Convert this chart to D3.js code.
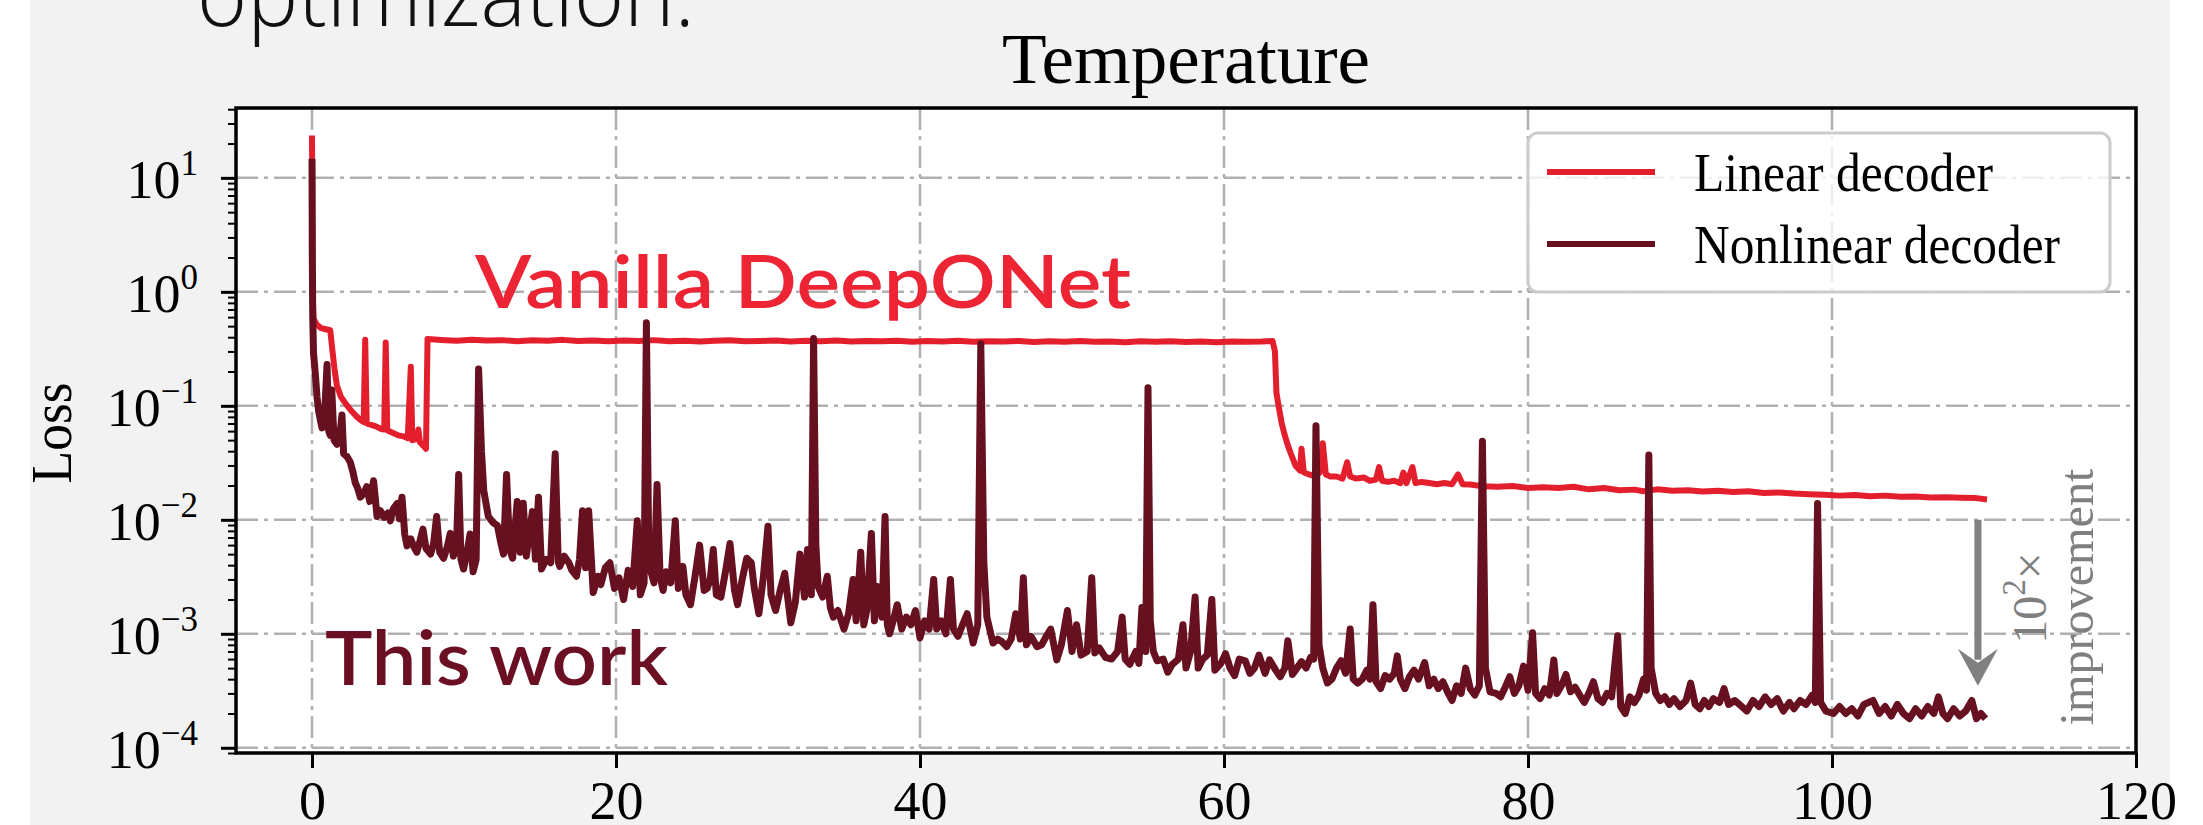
<!DOCTYPE html>
<html>
<head>
<meta charset="utf-8">
<script src="https://cdn.jsdelivr.net/npm/d3@7"></script>
<style>
  html, body { margin: 0; padding: 0; background: #ffffff; }
  svg { display: block; }
</style>
</head>
<body>
<div id="chart"></div>
<script>
// Loss curves: [epoch, loss]
const linearLoss = [
  [0, 23.5], [0.03, 3.0], [0.06, 0.8], [0.1, 0.58], [0.3, 0.52], [0.6, 0.48], [0.9, 0.47], [1.2, 0.46],
  [1.35, 0.3], [1.5, 0.2], [1.64, 0.15], [1.9, 0.12], [2.2, 0.105], [2.6, 0.09], [2.96, 0.08], [3.2, 0.075],
  [3.4, 0.072], [3.5, 0.38], [3.6, 0.07], [3.9, 0.068], [4.2, 0.066], [4.5, 0.063], [4.75, 0.062], [4.85, 0.36],
  [4.95, 0.061], [5.3, 0.058], [5.7, 0.055], [6.0, 0.054], [6.3, 0.052], [6.5, 0.22], [6.6, 0.05], [6.9, 0.051],
  [7.0, 0.062], [7.1, 0.048], [7.3, 0.045], [7.5, 0.042], [7.6, 0.385],
  [8.5, 0.378], [9.5, 0.372], [10.5, 0.38], [11.5, 0.374], [12.5, 0.377], [13.5, 0.369], [14.5, 0.376],
  [15.5, 0.372], [16.5, 0.379], [17.5, 0.37], [18.5, 0.375], [19.5, 0.368], [20.5, 0.374], [21.5, 0.371],
  [22.5, 0.377], [23.5, 0.369], [24.5, 0.373], [25.5, 0.366], [26.5, 0.372], [27.5, 0.376], [28.5, 0.368],
  [29.5, 0.371], [30.5, 0.374], [31.5, 0.367], [32.5, 0.372], [33.5, 0.369], [34.5, 0.375], [35.5, 0.366],
  [36.5, 0.371], [37.5, 0.368], [38.5, 0.373], [39.5, 0.365], [40.5, 0.37], [41.5, 0.367], [42.5, 0.372],
  [43.5, 0.364], [44.5, 0.369], [45.5, 0.366], [46.5, 0.371], [47.5, 0.363], [48.5, 0.368], [49.5, 0.365],
  [50.5, 0.37], [51.5, 0.364], [52.5, 0.367], [53.5, 0.362], [54.5, 0.368], [55.5, 0.365], [56.5, 0.369],
  [57.5, 0.363], [58.5, 0.366], [59.5, 0.362], [60.5, 0.367], [61.5, 0.364], [62.5, 0.366], [63.2, 0.37],
  [63.35, 0.3], [63.45, 0.13], [63.6, 0.098], [63.8, 0.07], [64.0, 0.055], [64.2, 0.045], [64.4, 0.038],
  [64.7, 0.03], [65.0, 0.027], [65.1, 0.042], [65.25, 0.026], [65.6, 0.025], [66.0, 0.024], [66.3, 0.026],
  [66.5, 0.047], [66.7, 0.025], [67.0, 0.024], [67.4, 0.024], [67.8, 0.023], [68.1, 0.032], [68.3, 0.024],
  [68.7, 0.023], [69.2, 0.0235], [69.6, 0.022], [70.0, 0.0225], [70.2, 0.029], [70.4, 0.022], [70.8, 0.0215],
  [71.2, 0.022], [71.6, 0.021], [71.8, 0.026], [72.0, 0.021], [72.4, 0.029], [72.6, 0.021], [73.0, 0.0215],
  [73.5, 0.021], [74.0, 0.0205], [74.5, 0.021], [75.0, 0.0205], [75.4, 0.025], [75.7, 0.0205], [76.2, 0.0204],
  [77, 0.0197], [78, 0.0195], [79, 0.0198], [80, 0.019], [81, 0.0193], [82, 0.019], [83, 0.0195], [84, 0.0185],
  [85, 0.019], [86, 0.0182], [87, 0.0184], [87.6, 0.0178], [88.5, 0.0185], [89.5, 0.018], [90.5, 0.0182],
  [91.5, 0.0177], [92.5, 0.018], [93.5, 0.0175], [94.5, 0.0178], [95.5, 0.0172], [96.5, 0.0174], [97.5, 0.017],
  [98.5, 0.0168], [99.5, 0.0166], [100.5, 0.0163], [101.5, 0.0165], [102.5, 0.0161], [103.5, 0.0163],
  [104.5, 0.0159], [105.5, 0.016], [106.5, 0.0157], [107.5, 0.0158], [108.5, 0.0156], [109.5, 0.0155], [110.2, 0.0151]
];

const nonlinearLoss = [
  [0, 14.7], [0.02, 2.0], [0.05, 0.6], [0.1, 0.29], [0.22, 0.19], [0.33, 0.12], [0.44, 0.089], [0.55, 0.075],
  [0.66, 0.064], [0.8, 0.07], [0.99, 0.23], [1.1, 0.06], [1.2, 0.055], [1.3, 0.138], [1.45, 0.05], [1.64, 0.046],
  [1.8, 0.05], [1.97, 0.083], [2.08, 0.038], [2.3, 0.036], [2.52, 0.032], [2.7, 0.026], [2.85, 0.021], [3.0, 0.019],
  [3.18, 0.0158], [3.4, 0.017], [3.6, 0.0195], [3.8, 0.0145], [4.05, 0.022], [4.28, 0.0107], [4.5, 0.012],
  [4.75, 0.0105], [5.0, 0.0115], [5.15, 0.0098], [5.35, 0.0125], [5.6, 0.0139], [5.75, 0.0102], [5.92, 0.0158],
  [6.1, 0.0075], [6.25, 0.0059], [6.5, 0.0068], [6.7, 0.0058], [6.9, 0.0052], [7.1, 0.0065], [7.3, 0.0083],
  [7.5, 0.0056], [7.8, 0.005], [8.0, 0.0062], [8.2, 0.0107], [8.4, 0.0052], [8.66, 0.0046], [8.9, 0.0058],
  [9.1, 0.0076], [9.3, 0.0048], [9.5, 0.0055], [9.65, 0.025], [9.8, 0.0045], [9.97, 0.0037], [10.2, 0.0052],
  [10.4, 0.0075], [10.6, 0.0035], [10.8, 0.0045], [10.96, 0.21], [11.15, 0.04], [11.3, 0.018], [11.6, 0.0107],
  [11.9, 0.0095], [12.2, 0.0089], [12.4, 0.0065], [12.6, 0.005], [12.8, 0.025], [13.0, 0.0055], [13.2, 0.0046],
  [13.5, 0.0145], [13.7, 0.0052], [13.9, 0.014], [14.1, 0.0048], [14.3, 0.0075], [14.5, 0.0118], [14.7, 0.0045],
  [14.9, 0.0158], [15.1, 0.0037], [15.4, 0.0045], [15.7, 0.0042], [16.0, 0.038], [16.2, 0.0043], [16.3, 0.0039],
  [16.6, 0.0048], [16.9, 0.0042], [17.1, 0.0036], [17.4, 0.0032], [17.6, 0.0045], [17.8, 0.012], [18.0, 0.0038],
  [18.2, 0.012], [18.5, 0.0023], [18.8, 0.0032], [19.0, 0.0027], [19.3, 0.0038], [19.6, 0.0042], [19.9, 0.0025],
  [20.2, 0.0031], [20.5, 0.002], [20.8, 0.0036], [21.1, 0.0026], [21.4, 0.0098], [21.6, 0.0022], [21.85, 0.0028],
  [22.0, 0.535], [22.15, 0.006], [22.3, 0.0035], [22.5, 0.0028], [22.7, 0.0204], [22.9, 0.0032], [23.1, 0.0024],
  [23.3, 0.0035], [23.6, 0.0028], [23.9, 0.0098], [24.1, 0.0025], [24.4, 0.0039], [24.6, 0.0022], [24.9, 0.0018],
  [25.2, 0.0032], [25.5, 0.006], [25.8, 0.0024], [26.0, 0.0025], [26.2, 0.003], [26.4, 0.0055], [26.6, 0.0022],
  [26.9, 0.0021], [27.2, 0.0035], [27.5, 0.0062], [27.8, 0.0024], [28.0, 0.0018], [28.3, 0.003], [28.6, 0.0046],
  [28.9, 0.0042], [29.1, 0.0025], [29.4, 0.0015], [29.7, 0.0032], [30.0, 0.0088], [30.2, 0.0022], [30.5, 0.0016],
  [30.8, 0.0024], [31.1, 0.0034], [31.5, 0.00125], [31.8, 0.0019], [32.1, 0.005], [32.4, 0.0021], [32.6, 0.0055],
  [32.85, 0.0022], [33.0, 0.39], [33.15, 0.006], [33.3, 0.0026], [33.6, 0.0021], [33.9, 0.0032], [34.1, 0.0017],
  [34.3, 0.0014], [34.6, 0.0016], [35.0, 0.0011], [35.3, 0.0015], [35.6, 0.003], [35.8, 0.0013], [36.1, 0.0052],
  [36.3, 0.0012], [36.5, 0.0016], [36.8, 0.0076], [37.0, 0.0013], [37.2, 0.0026], [37.5, 0.0014], [37.7, 0.0107],
  [37.85, 0.0012], [38.0, 0.001], [38.3, 0.0014], [38.5, 0.0018], [38.8, 0.0011], [39.1, 0.0014], [39.4, 0.0012],
  [39.7, 0.0016], [40.0, 0.00092], [40.3, 0.0013], [40.6, 0.0011], [40.9, 0.003], [41.1, 0.0011], [41.4, 0.0013],
  [41.7, 0.001], [42.0, 0.003], [42.2, 0.0011], [42.5, 0.00095], [42.8, 0.0012], [43.1, 0.0015], [43.5, 0.00083],
  [43.8, 0.0012], [44.0, 0.35], [44.2, 0.0042], [44.4, 0.0014], [44.8, 0.00083], [45.1, 0.0009], [45.4, 0.00085],
  [45.7, 0.00077], [46.0, 0.0009], [46.3, 0.0015], [46.6, 0.0009], [46.8, 0.0031], [47.0, 0.0008], [47.3, 0.00095],
  [47.7, 0.00077], [48.0, 0.0008], [48.3, 0.00095], [48.6, 0.0011], [49.0, 0.00059], [49.3, 0.0008], [49.7, 0.0016],
  [50.0, 0.0007], [50.3, 0.0012], [50.6, 0.00065], [51.0, 0.0007], [51.3, 0.0031], [51.5, 0.00068], [51.8, 0.00075],
  [52.2, 0.00062], [52.6, 0.0006], [53.0, 0.0007], [53.3, 0.0014], [53.5, 0.0006], [53.8, 0.00054], [54.2, 0.0007],
  [54.4, 0.00055], [54.6, 0.0017], [54.85, 0.0007], [55.0, 0.144], [55.15, 0.0013], [55.35, 0.0007], [55.6, 0.00058],
  [56.0, 0.0006], [56.3, 0.00046], [56.6, 0.00054], [57.0, 0.0006], [57.3, 0.0012], [57.5, 0.0005], [57.8, 0.0007],
  [58.1, 0.0021], [58.3, 0.0005], [58.6, 0.0006], [58.9, 0.00065], [59.2, 0.002], [59.4, 0.00048], [59.8, 0.00055],
  [60.1, 0.00067], [60.4, 0.0005], [60.7, 0.00043], [61.0, 0.0006], [61.4, 0.00058], [61.7, 0.00045], [62.0, 0.0005],
  [62.3, 0.00065], [62.7, 0.00045], [63.0, 0.00059], [63.4, 0.00048], [63.7, 0.00042], [64.0, 0.0005], [64.2, 0.00087],
  [64.5, 0.00044], [64.8, 0.0005], [65.1, 0.00057], [65.4, 0.0005], [65.7, 0.00062], [65.9, 0.0006], [66.05, 0.067],
  [66.25, 0.0008], [66.5, 0.0005], [66.8, 0.00037], [67.1, 0.0004], [67.4, 0.0005], [67.7, 0.00058], [68.0, 0.00045],
  [68.3, 0.0011], [68.5, 0.0004], [68.8, 0.00037], [69.1, 0.0004], [69.4, 0.00048], [69.6, 0.0004], [69.8, 0.0018],
  [70.0, 0.00038], [70.3, 0.00033], [70.6, 0.00043], [70.9, 0.0004], [71.2, 0.00045], [71.4, 0.00064], [71.6, 0.0004],
  [71.9, 0.00033], [72.2, 0.00042], [72.5, 0.00048], [72.8, 0.0004], [73.2, 0.00056], [73.5, 0.00035], [73.8, 0.0004],
  [74.1, 0.00033], [74.4, 0.00038], [74.7, 0.00031], [75.0, 0.00026], [75.3, 0.00035], [75.6, 0.0003], [75.9, 0.0005],
  [76.2, 0.00033], [76.5, 0.00029], [76.8, 0.00035], [77.0, 0.049], [77.2, 0.0005], [77.5, 0.00031], [77.9, 0.0003],
  [78.2, 0.00028], [78.5, 0.00034], [78.8, 0.00042], [79.1, 0.0003], [79.4, 0.00035], [79.7, 0.00052], [80.0, 0.00032],
  [80.3, 0.00102], [80.5, 0.0003], [80.8, 0.00027], [81.1, 0.00033], [81.4, 0.00029], [81.7, 0.00059], [81.9, 0.0003],
  [82.2, 0.00035], [82.5, 0.00044], [82.8, 0.00031], [83.1, 0.00034], [83.4, 0.00029], [83.7, 0.00025], [84.0, 0.0003],
  [84.3, 0.00038], [84.6, 0.00027], [84.9, 0.00025], [85.2, 0.0003], [85.5, 0.00028], [85.9, 0.00096], [86.1, 0.00023],
  [86.4, 0.0002], [86.7, 0.00028], [87.0, 0.00025], [87.3, 0.00029], [87.6, 0.0004], [87.8, 0.00032], [87.95, 0.037],
  [88.1, 0.0005], [88.4, 0.0003], [88.7, 0.00026], [89.0, 0.00028], [89.3, 0.00024], [89.6, 0.00027], [90.0, 0.00023],
  [90.4, 0.00026], [90.7, 0.00037], [91.0, 0.00024], [91.3, 0.00022], [91.6, 0.00026], [91.9, 0.00023], [92.2, 0.00027],
  [92.6, 0.00025], [92.9, 0.00033], [93.2, 0.00024], [93.6, 0.00026], [94.0, 0.000234], [94.4, 0.00021], [94.8, 0.00026],
  [95.2, 0.00023], [95.6, 0.00028], [96.0, 0.00024], [96.4, 0.00027], [96.8, 0.00021], [97.2, 0.00025], [97.5, 0.00022],
  [97.9, 0.00026], [98.3, 0.00024], [98.7, 0.00029], [98.9, 0.00025], [99.05, 0.0139], [99.25, 0.00025], [99.6, 0.00021],
  [100.1, 0.0002], [100.5, 0.00023], [100.9, 0.0002], [101.3, 0.00022], [101.7, 0.00019], [102.1, 0.00024],
  [102.7, 0.00026], [103.1, 0.0002], [103.5, 0.00023], [103.9, 0.00019], [104.3, 0.00024], [104.7, 0.0002],
  [105.1, 0.00018], [105.5, 0.00022], [105.9, 0.00019], [106.3, 0.00023], [106.7, 0.0002], [107.0, 0.00028],
  [107.3, 0.0002], [107.6, 0.00018], [108.0, 0.00022], [108.4, 0.00019], [108.8, 0.00021], [109.2, 0.00026],
  [109.5, 0.00018], [109.8, 0.0002], [110.1, 0.00018]
];

const xTicks = [0, 20, 40, 60, 80, 100, 120];
const yExponents = [-4, -3, -2, -1, 0, 1];
const seriesNames = ["Linear decoder", "Nonlinear decoder"];

// improvement arrow, in data units
const arrowEpoch = 109.6;
const arrowFrom = 1e-2;
const arrowTo = 3.5e-4;

const red = "#e41f2d";
const maroon = "#67101f";
const serif = "'Liberation Serif', 'DejaVu Serif', serif";

const width = 2203;
const height = 825;
const plot = { left: 236, right: 2136, top: 108, bottom: 753 };

const svg = d3.select("#chart")
    .append("svg")
    .attr("width", width)
    .attr("height", height)
    .attr("viewBox", `0 0 ${width} ${height}`);

// slide background
svg.append("rect")
    .attr("x", 30).attr("y", 0)
    .attr("width", 2140).attr("height", height)
    .attr("fill", "#f2f2f2");

// cut-off line of the slide text above the chart
svg.append("text")
    .attr("x", 197).attr("y", 26)
    .attr("font-family", "'Open Sans', 'Noto Sans', sans-serif")
    .attr("font-weight", 300)
    .attr("font-size", 88)
    .attr("textLength", 498)
    .attr("lengthAdjust", "spacingAndGlyphs")
    .attr("fill", "#111")
    .text("optimization.");

const x = d3.scaleLinear().domain([-5, 120]).range([plot.left, plot.right]);
const y = d3.scaleLog().domain([9e-5, 41]).range([plot.bottom, plot.top]);

svg.append("rect")
    .attr("x", plot.left).attr("y", plot.top)
    .attr("width", plot.right - plot.left).attr("height", plot.bottom - plot.top)
    .attr("fill", "#ffffff");

svg.append("clipPath").attr("id", "clip")
    .append("rect")
    .attr("x", plot.left).attr("y", plot.top)
    .attr("width", plot.right - plot.left).attr("height", plot.bottom - plot.top);

// dash-dot grid
const grid = svg.append("g")
    .attr("stroke", "#b0b0b0")
    .attr("stroke-width", 2.5)
    .attr("stroke-dasharray", "22 6 4 6")
    .attr("fill", "none");

grid.selectAll(".vgrid")
    .data(xTicks)
    .enter()
    .append("line")
    .attr("x1", d => x(d)).attr("x2", d => x(d))
    .attr("y1", plot.top).attr("y2", plot.bottom);

grid.selectAll(".hgrid")
    .data(yExponents)
    .enter()
    .append("line")
    .attr("x1", plot.left).attr("x2", plot.right)
    .attr("y1", d => y(Math.pow(10, d))).attr("y2", d => y(Math.pow(10, d)));

// the two loss curves
const line = d3.line()
    .x(d => x(d[0]))
    .y(d => y(d[1]));

const curves = svg.append("g").attr("clip-path", "url(#clip)");

curves.append("path")
    .datum(linearLoss)
    .attr("d", line)
    .attr("fill", "none")
    .attr("stroke", red)
    .attr("stroke-width", 6)
    .attr("stroke-linejoin", "round");

curves.append("path")
    .datum(nonlinearLoss)
    .attr("d", line)
    .attr("fill", "none")
    .attr("stroke", maroon)
    .attr("stroke-width", 7)
    .attr("stroke-linejoin", "round");

// legend
const legend = svg.append("g");
legend.append("rect")
    .attr("x", 1528).attr("y", 133)
    .attr("width", 582).attr("height", 159)
    .attr("rx", 10)
    .attr("fill", "#ffffff").attr("fill-opacity", 0.8)
    .attr("stroke", "#cccccc").attr("stroke-width", 3);

legend.selectAll(".legend-line")
    .data(seriesNames)
    .enter()
    .append("line")
    .attr("x1", 1547).attr("x2", 1655)
    .attr("y1", (d, i) => 172 + i * 72).attr("y2", (d, i) => 172 + i * 72)
    .attr("stroke", (d, i) => i === 0 ? red : maroon)
    .attr("stroke-width", 6);

legend.selectAll(".legend-label")
    .data(seriesNames)
    .enter()
    .append("text")
    .attr("x", 1694)
    .attr("y", (d, i) => 191 + i * 72)
    .attr("font-family", serif)
    .attr("font-size", 54)
    .attr("textLength", (d, i) => i === 0 ? 299 : 366)
    .attr("lengthAdjust", "spacingAndGlyphs")
    .attr("fill", "#000")
    .text(d => d);

// spines
svg.append("rect")
    .attr("x", plot.left).attr("y", plot.top)
    .attr("width", plot.right - plot.left).attr("height", plot.bottom - plot.top)
    .attr("fill", "none")
    .attr("stroke", "#000")
    .attr("stroke-width", 3.5);

// x axis
const xAxis = svg.append("g")
    .attr("transform", `translate(0,${plot.bottom})`)
    .call(d3.axisBottom(x).tickValues(xTicks).tickSize(15).tickSizeOuter(0).tickPadding(13));
xAxis.select(".domain").remove();
xAxis.attr("font-family", serif).attr("font-size", 54);
xAxis.selectAll(".tick line").attr("stroke-width", 3);
xAxis.selectAll(".tick text").attr("fill", "#000");

// y axis, minor ticks first
const minorTicks = [];
for (let e = -5; e <= 1; e++) {
    for (let k = 2; k <= 9; k++) {
        const v = k * Math.pow(10, e);
        if (v >= 9e-5 && v <= 41) minorTicks.push(v);
    }
}
const yMinor = svg.append("g")
    .attr("transform", `translate(${plot.left},0)`)
    .call(d3.axisLeft(y).tickValues(minorTicks).tickSize(8).tickSizeOuter(0).tickFormat(""));
yMinor.select(".domain").remove();
yMinor.selectAll(".tick line").attr("stroke-width", 2);

const yAxis = svg.append("g")
    .attr("transform", `translate(${plot.left},0)`)
    .call(d3.axisLeft(y).tickValues(yExponents.map(e => Math.pow(10, e)))
        .tickSize(15).tickSizeOuter(0).tickPadding(23).tickFormat(""));
yAxis.select(".domain").remove();
yAxis.attr("font-family", serif).attr("font-size", 54);
yAxis.selectAll(".tick line").attr("stroke-width", 3);
yAxis.selectAll(".tick text").each(function(d) {
    const e = Math.round(Math.log10(d));
    const t = d3.select(this).attr("dy", null).attr("y", 20).attr("fill", "#000");
    t.append("tspan").text("10");
    t.append("tspan")
        .attr("dy", -23)
        .attr("font-size", 35)
        .text(e < 0 ? "\u2212" + (-e) : String(e));
});

// axis label and title
svg.append("text")
    .attr("transform", "translate(71,433) rotate(-90)")
    .attr("text-anchor", "middle")
    .attr("font-family", serif)
    .attr("font-size", 58)
    .attr("textLength", 101)
    .attr("lengthAdjust", "spacingAndGlyphs")
    .text("Loss");

svg.append("text")
    .attr("x", (plot.left + plot.right) / 2)
    .attr("y", 83)
    .attr("text-anchor", "middle")
    .attr("font-family", serif)
    .attr("font-size", 72)
    .attr("textLength", 368)
    .attr("lengthAdjust", "spacingAndGlyphs")
    .text("Temperature");

// slide annotations
svg.append("text")
    .attr("x", 475).attr("y", 308)
    .attr("font-family", "Lato, 'Open Sans', sans-serif")
    .attr("font-weight", 600)
    .attr("font-size", 73)
    .attr("textLength", 656)
    .attr("lengthAdjust", "spacingAndGlyphs")
    .attr("fill", "#ec2434")
    .text("Vanilla DeepONet");

svg.append("text")
    .attr("x", 325).attr("y", 685)
    .attr("font-family", "Lato, 'Open Sans', sans-serif")
    .attr("font-weight", 600)
    .attr("font-size", 75)
    .attr("textLength", 343)
    .attr("lengthAdjust", "spacingAndGlyphs")
    .attr("fill", "#6b0f22")
    .text("This work");

// improvement arrow
const ax = x(arrowEpoch);
const yTip = y(arrowTo);
svg.append("line")
    .attr("x1", ax).attr("x2", ax)
    .attr("y1", y(arrowFrom)).attr("y2", yTip - 26)
    .attr("stroke", "#808080")
    .attr("stroke-width", 7);
svg.append("path")
    .attr("d", `M${ax},${yTip} L${ax - 20},${yTip - 37} L${ax},${yTip - 23} L${ax + 20},${yTip - 37} Z`)
    .attr("fill", "#808080");

const note = svg.append("g")
    .attr("font-family", serif)
    .attr("fill", "#7f7f7f")
    .attr("text-anchor", "middle");
const note1 = note.append("text")
    .attr("transform", "translate(2046,598) rotate(-90)")
    .attr("font-size", 48);
note1.append("tspan").text("10");
note1.append("tspan").attr("dy", -21).attr("font-size", 33).text("2");
note1.append("tspan").attr("dy", 21).text("\u00d7");
note.append("text")
    .attr("transform", "translate(2093,597) rotate(-90)")
    .attr("font-size", 49)
    .attr("textLength", 257)
    .attr("lengthAdjust", "spacingAndGlyphs")
    .text("improvement");
</script>
</body>
</html>
